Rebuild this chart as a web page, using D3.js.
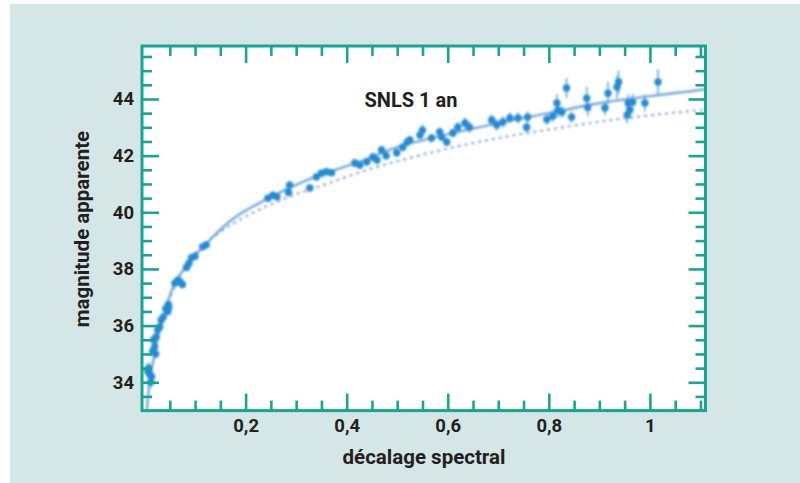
<!DOCTYPE html>
<html>
<head>
<meta charset="utf-8">
<script src="https://cdn.jsdelivr.net/npm/d3@7"></script>
<style>
  body { margin: 0; background: #fff; }
  svg { display: block; font-family: Roboto, "DejaVu Sans", sans-serif; }
</style>
</head>
<body>
<svg id="chart" width="800" height="483"></svg>
<script>
// supernovae : décalage spectral, magnitude, barre d'erreur
const pointZ = [0.006, 0.008, 0.01, 0.012, 0.014, 0.016, 0.018, 0.02, 0.022, 0.023,
  0.026, 0.03, 0.033, 0.037, 0.042, 0.046, 0.047, 0.048, 0.06, 0.066,
  0.07, 0.075, 0.083, 0.088, 0.093, 0.1, 0.115, 0.122,
  0.244, 0.254, 0.262, 0.285, 0.287, 0.327, 0.34, 0.35, 0.36, 0.37,
  0.416, 0.426, 0.44, 0.452, 0.46, 0.469, 0.478, 0.499, 0.511, 0.52,
  0.525, 0.545, 0.55, 0.568, 0.584, 0.588, 0.598, 0.61, 0.62, 0.634,
  0.643, 0.687, 0.697, 0.709, 0.723, 0.739, 0.756, 0.758, 0.796, 0.808,
  0.816, 0.818, 0.826, 0.835, 0.845, 0.875, 0.877, 0.911, 0.917, 0.935,
  0.938, 0.955, 0.957, 0.96, 0.966, 0.99, 1.016];
const pointMag = [34.4, 34.5, 34.3, 34.0, 34.2, 35.1, 35.5, 35.25, 35.0, 35.6,
  35.85, 35.95, 36.2, 36.3, 36.6, 36.5, 36.75, 36.65, 37.5, 37.6,
  37.55, 37.45, 38.05, 38.2, 38.4, 38.45, 38.78, 38.85,
  40.5, 40.6, 40.55, 40.7, 40.96, 40.86, 41.25, 41.38, 41.43, 41.4,
  41.74, 41.67, 41.78, 41.95, 41.85, 42.2, 42.0, 42.1, 42.3, 42.48,
  42.55, 42.73, 42.9, 42.62, 42.84, 42.66, 42.48, 42.8, 43.0, 43.15,
  43.0, 43.26, 43.08, 43.19, 43.33, 43.33, 43.0, 43.36, 43.28, 43.4,
  43.86, 43.6, 43.54, 44.39, 43.36, 44.03, 43.7, 43.68, 44.2, 44.42,
  44.6, 43.44, 43.86, 43.6, 43.89, 43.86, 44.6];
const pointErr = [0.25, 0.2, 0.2, 0.2, 0.15, 0.15, 0.15, 0.15, 0.15, 0.15,
  0.15, 0.15, 0.12, 0.12, 0.12, 0.12, 0.12, 0.12, 0.12, 0.12,
  0.12, 0.12, 0.1, 0.1, 0.1, 0.1, 0.1, 0.1,
  0.12, 0.12, 0.12, 0.12, 0.15, 0.12, 0.12, 0.12, 0.12, 0.12,
  0.15, 0.15, 0.15, 0.15, 0.15, 0.15, 0.15, 0.15, 0.15, 0.15,
  0.15, 0.15, 0.2, 0.15, 0.15, 0.15, 0.15, 0.15, 0.2, 0.2,
  0.2, 0.2, 0.2, 0.2, 0.2, 0.2, 0.2, 0.2, 0.2, 0.2,
  0.3, 0.25, 0.2, 0.35, 0.2, 0.4, 0.3, 0.25, 0.4, 0.4,
  0.4, 0.3, 0.3, 0.3, 0.3, 0.3, 0.45];

// courbes modèles (avec / sans énergie noire)
const solidZ = [0.003, 0.01, 0.02, 0.03, 0.045, 0.06, 0.083, 0.12, 0.17, 0.24,
  0.33, 0.42, 0.5, 0.6, 0.7, 0.8, 0.9, 1.0, 1.12];
const solidMag = [32.7, 34.0, 35.0, 35.9, 36.8, 37.5, 38.1, 38.85, 39.7, 40.45,
  41.2, 41.75, 42.3, 42.75, 43.15, 43.5, 43.85, 44.1, 44.36];
const dottedZ = [0.003, 0.01, 0.02, 0.03, 0.05, 0.1, 0.15, 0.2, 0.28, 0.36,
  0.45, 0.5, 0.6, 0.7, 0.8, 0.9, 1.0, 1.12];
const dottedMag = [32.7, 34.0, 35.0, 35.85, 36.95, 38.55, 39.3, 39.85, 40.5, 41.0,
  41.55, 41.8, 42.25, 42.62, 42.92, 43.2, 43.42, 43.64];

const xTickValues = [0.2, 0.4, 0.6, 0.8, 1];
const xTickLabels = ['0,2', '0,4', '0,6', '0,8', '1'];
const yTickValues = [34, 36, 38, 40, 42, 44];
const yTickLabels = ['34', '36', '38', '40', '42', '44'];

const teal = '#17a692';
const svg = d3.select('#chart');

svg.append('rect')
  .attr('x', 10).attr('y', 4).attr('width', 790).attr('height', 479)
  .attr('fill', '#d5e6e6');

const x = d3.scaleLinear().domain([-0.005, 1.11]).range([142, 705.5]);
const y = d3.scaleLinear().domain([33, 45.87]).range([410.6, 46]);

const plotBottom = y.range()[0], plotTop = y.range()[1];
const plotLeft = x.range()[0], plotRight = x.range()[1];

svg.append('rect')
  .attr('x', plotLeft).attr('y', plotTop)
  .attr('width', plotRight - plotLeft)
  .attr('height', plotBottom - plotTop)
  .attr('fill', '#fff');

const defs = svg.append('defs');
defs.append('clipPath').attr('id', 'clip')
  .append('rect')
  .attr('x', plotLeft).attr('y', plotTop)
  .attr('width', plotRight - plotLeft)
  .attr('height', plotBottom - plotTop);
defs.append('filter').attr('id', 'soft')
  .append('feGaussianBlur').attr('stdDeviation', 0.8);

const plot = svg.append('g').attr('clip-path', 'url(#clip)');
const marks = plot.append('g').attr('filter', 'url(#soft)');

const line = d3.line().curve(d3.curveMonotoneX);

marks.append('path')
  .attr('d', line(dottedZ.map((z, i) => [x(z), y(dottedMag[i])])))
  .attr('fill', 'none')
  .attr('stroke', '#8ea7d6')
  .attr('stroke-width', 2.2)
  .attr('stroke-dasharray', '3,4');

marks.append('path')
  .attr('d', line(solidZ.map((z, i) => [x(z), y(solidMag[i])])))
  .attr('fill', 'none')
  .attr('stroke', '#74a9dc')
  .attr('stroke-width', 2.4);

const points = pointZ.map((z, i) => ({ z: z, m: pointMag[i], e: pointErr[i] }));

marks.append('g')
  .selectAll('line')
  .data(points)
  .join('line')
    .attr('x1', d => x(d.z)).attr('x2', d => x(d.z))
    .attr('y1', d => y(d.m - d.e)).attr('y2', d => y(d.m + d.e))
    .attr('stroke', '#5ca8e0')
    .attr('stroke-width', 1.6);

marks.append('g')
  .selectAll('circle')
  .data(points)
  .join('circle')
    .attr('cx', d => x(d.z))
    .attr('cy', d => y(d.m))
    .attr('r', 3.7)
    .attr('fill', '#218bd2');

// axes
const xMinor = d3.range(0.05, 1.11, 0.05).filter(v => !xTickValues.some(t => Math.abs(t - v) < 1e-6));
const yMinor = d3.range(33.5, 45.9, 0.5).filter(v => v % 2 !== 0);

function styleAxis(g) {
  g.select('.domain').remove();
  g.selectAll('.tick line').attr('stroke', teal).attr('stroke-width', 2.6);
  g.selectAll('.tick text')
    .attr('fill', '#231f20')
    .attr('font-size', 18.5)
    .attr('font-weight', 'bold')
    .attr('font-family', 'Roboto, sans-serif');
}

svg.append('g').attr('transform', `translate(0,${plotBottom})`)
  .call(d3.axisBottom(x).tickValues(xTickValues).tickSize(-17).tickPadding(8)
    .tickFormat((d, i) => xTickLabels[i]))
  .call(styleAxis);
svg.append('g').attr('transform', `translate(0,${plotBottom})`)
  .call(d3.axisBottom(x).tickValues(xMinor).tickSize(-10).tickFormat(''))
  .call(styleAxis);
svg.append('g').attr('transform', `translate(0,${plotTop})`)
  .call(d3.axisTop(x).tickValues(xTickValues).tickSize(-17).tickFormat(''))
  .call(styleAxis);
svg.append('g').attr('transform', `translate(0,${plotTop})`)
  .call(d3.axisTop(x).tickValues(xMinor).tickSize(-10).tickFormat(''))
  .call(styleAxis);

svg.append('g').attr('transform', `translate(${plotLeft},0)`)
  .call(d3.axisLeft(y).tickValues(yTickValues).tickSize(-17).tickPadding(8)
    .tickFormat((d, i) => yTickLabels[i]))
  .call(styleAxis);
svg.append('g').attr('transform', `translate(${plotLeft},0)`)
  .call(d3.axisLeft(y).tickValues(yMinor).tickSize(-10).tickFormat(''))
  .call(styleAxis);
svg.append('g').attr('transform', `translate(${plotRight},0)`)
  .call(d3.axisRight(y).tickValues(yTickValues).tickSize(-17).tickFormat(''))
  .call(styleAxis);
svg.append('g').attr('transform', `translate(${plotRight},0)`)
  .call(d3.axisRight(y).tickValues(yMinor).tickSize(-10).tickFormat(''))
  .call(styleAxis);

svg.append('rect')
  .attr('x', plotLeft).attr('y', plotTop)
  .attr('width', plotRight - plotLeft).attr('height', plotBottom - plotTop)
  .attr('fill', 'none')
  .attr('stroke', teal)
  .attr('stroke-width', 3);

// textes
svg.append('text')
  .attr('x', 411).attr('y', 107)
  .attr('text-anchor', 'middle')
  .attr('font-size', 20).attr('font-weight', 'bold')
  .attr('fill', '#231f20')
  .text('SNLS 1 an');

svg.append('text')
  .attr('x', 424).attr('y', 464)
  .attr('text-anchor', 'middle')
  .attr('font-size', 20.5).attr('font-weight', 'bold')
  .attr('fill', '#231f20')
  .text('décalage spectral');

svg.append('text')
  .attr('transform', 'translate(89,229) rotate(-90)')
  .attr('text-anchor', 'middle')
  .attr('font-size', 20.5).attr('font-weight', 'bold')
  .attr('fill', '#231f20')
  .text('magnitude apparente');
</script>
</body>
</html>
